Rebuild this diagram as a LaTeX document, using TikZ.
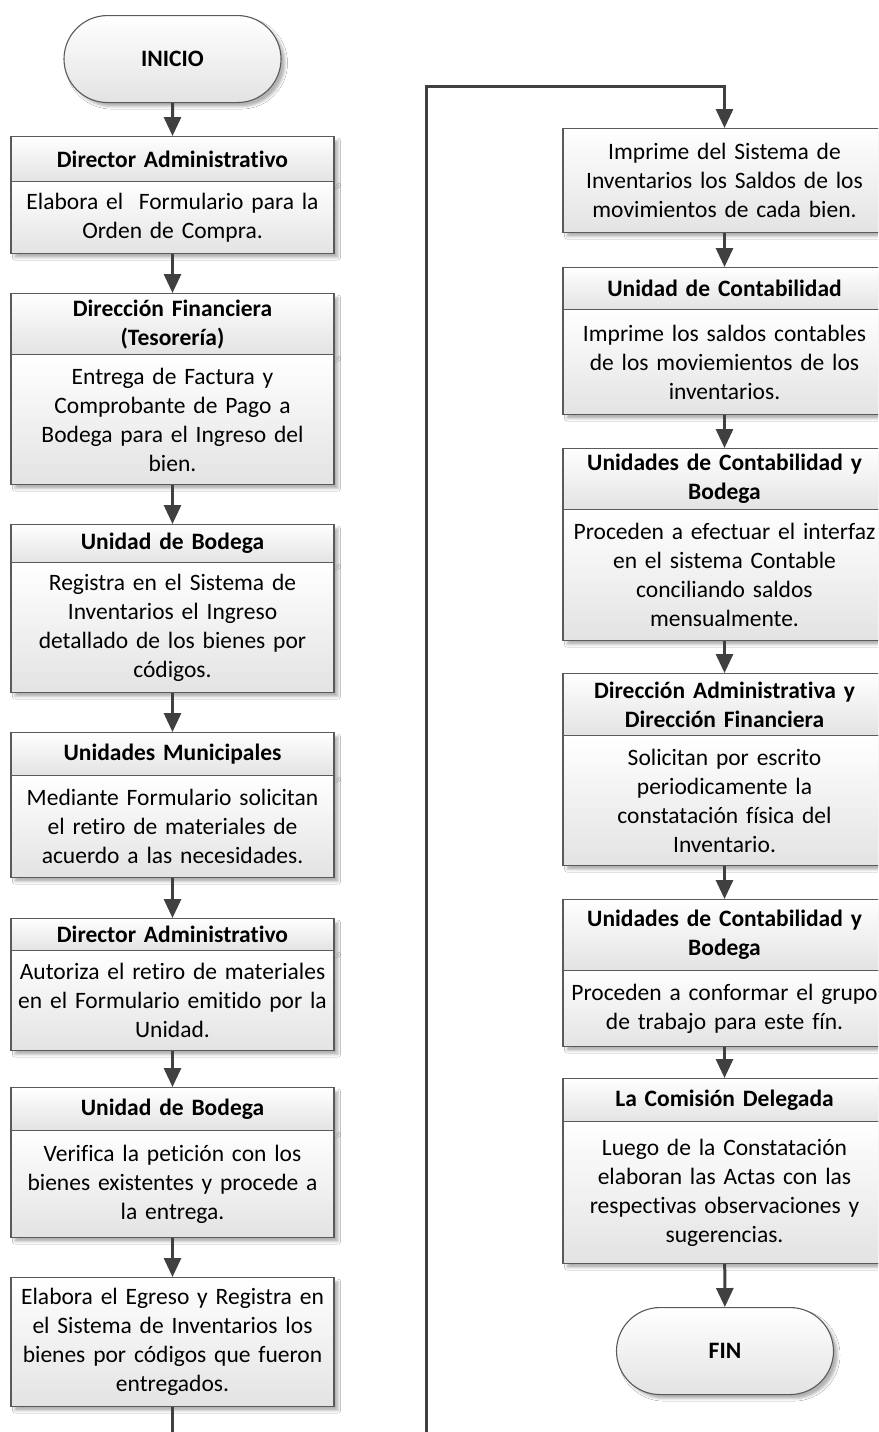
\documentclass[tikz,border=0pt]{standalone}
\usepackage{fontspec}
\setmainfont{Carlito}[RawFeature={-liga;-clig;-calt;-dlig;-rlig}]
\usetikzlibrary{arrows.meta,shapes.misc,shadows.blur}

\definecolor{boxline}{HTML}{5A5A5A}
\definecolor{flowline}{HTML}{404040}
\newcommand{\boxsize}{\fontsize{23.5pt}{29pt}\selectfont}

\tikzset{
  boxbase/.style={draw=boxline, line width=1.1pt, top color=white, bottom color=black!11,
    blur shadow={shadow xshift=4pt, shadow yshift=-4pt, shadow blur radius=2.5pt, shadow opacity=30},
    minimum width=323pt, text width=317pt, align=center, inner sep=0pt, anchor=north},
  hdr/.style={boxbase, font=\boxsize\bfseries},
  bdy/.style={boxbase, font=\boxsize},
  term/.style={rounded rectangle, draw=boxline, line width=1.1pt, top color=white, bottom color=black!11,
    blur shadow={shadow xshift=4pt, shadow yshift=-4pt, shadow blur radius=2.5pt, shadow opacity=30},
    minimum width=217pt, minimum height=87pt, inner sep=0pt, anchor=north, font=\boxsize\bfseries},
  flow/.style={draw=flowline, line width=3pt, -{Triangle[length=19pt,width=17pt]}},
}

\begin{document}
\begin{tikzpicture}[x=1pt,y=-1pt]
\useasboundingbox (0,0) rectangle (878,1432);
\fill[white] (0,0) rectangle (878,1432);
\clip (0,0) rectangle (878,1432);

% ---------- left column ----------
\node[term] (ini) at (172.5,15) {INICIO};

\node[hdr, minimum height=45pt] (h1) at (172.5,136) {Director Administrativo};
\node[bdy, minimum height=72pt] (b1) at (172.5,181) {Elabora el~ Formulario para la\\Orden de Compra.};

\node[hdr, minimum height=61pt] (h2) at (172.5,293) {Dirección Financiera\\(Tesorería)};
\node[bdy, minimum height=130pt] (b2) at (172.5,354) {Entrega de Factura y\\Comprobante de Pago a\\Bodega para el Ingreso del\\bien.};

\node[hdr, minimum height=38pt] (h3) at (172.5,524) {Unidad de Bodega};
\node[bdy, minimum height=130pt] (b3) at (172.5,562) {Registra en el Sistema de\\Inventarios el Ingreso\\detallado de los bienes por\\códigos.};

\node[hdr, minimum height=43pt] (h4) at (172.5,732) {Unidades Municipales};
\node[bdy, minimum height=102pt] (b4) at (172.5,775) {Mediante Formulario solicitan\\el retiro de materiales de\\acuerdo a las necesidades.};

\node[hdr, minimum height=32pt] (h5) at (172.5,918) {Director Administrativo};
\node[bdy, minimum height=100pt] (b5) at (172.5,950) {Autoriza el retiro de materiales\\en el Formulario emitido por la\\Unidad.};

\node[hdr, minimum height=43pt] (h6) at (172.5,1087) {Unidad de Bodega};
\node[bdy, minimum height=107pt] (b6) at (172.5,1130) {Verifica la petición con los\\bienes existentes y procede a\\la entrega.};

\node[bdy, minimum height=129pt] (b7) at (172.5,1277) {Elabora el Egreso y Registra en\\el Sistema de Inventarios los\\bienes por códigos que fueron\\entregados.};

% ---------- right column ----------
\node[bdy, minimum height=104pt] (r1) at (724.5,128) {Imprime del Sistema de\\Inventarios los Saldos de los\\movimientos de cada bien.};

\node[hdr, minimum height=42pt] (rh2) at (724.5,267) {Unidad de Contabilidad};
\node[bdy, minimum height=105pt] (rb2) at (724.5,309) {Imprime los saldos contables\\de los moviemientos de los\\inventarios.};

\node[hdr, minimum height=61pt] (rh3) at (724.5,448) {Unidades de Contabilidad y\\Bodega};
\node[bdy, minimum height=131pt] (rb3) at (724.5,509) {Proceden a efectuar el interfaz\\en el sistema Contable\\conciliando saldos\\mensualmente.};

\node[hdr, minimum height=62pt] (rh4) at (724.5,673) {Dirección Administrativa y\\Dirección Financiera};
\node[bdy, minimum height=130pt] (rb4) at (724.5,735) {Solicitan por escrito\\periodicamente la\\constatación física del\\Inventario.};

\node[hdr, minimum height=71pt] (rh5) at (724.5,899) {Unidades de Contabilidad y\\Bodega};
\node[bdy, minimum height=76pt] (rb5) at (724.5,970) {Proceden a conformar el grupo\\de trabajo para este fín.};

\node[hdr, minimum height=43pt] (rh6) at (724.5,1078) {La Comisión Delegada};
\node[bdy, minimum height=142pt] (rb6) at (724.5,1121) {Luego de la Constatación\\elaboran las Actas con las\\respectivas observaciones y\\sugerencias.};

\node[term] (fin) at (725,1307) {FIN};

% ---------- connectors ----------
\draw[flow] (ini) -- (h1);
\draw[flow] (b1) -- (h2);
\draw[flow] (b2) -- (h3);
\draw[flow] (b3) -- (h4);
\draw[flow] (b4) -- (h5);
\draw[flow] (b5) -- (h6);
\draw[flow] (b6) -- (b7);

\coordinate (loopB) at (426,1470);
\coordinate (loopT) at (426,86);
\draw[flow] (b7.south) |- (loopB) -- (loopT) -| (r1.north);

\draw[flow] (r1) -- (rh2);
\draw[flow] (rb2) -- (rh3);
\draw[flow] (rb3) -- (rh4);
\draw[flow] (rb4) -- (rh5);
\draw[flow] (rb5) -- (rh6);
\draw[flow] (rb6) -- (fin);
\end{tikzpicture}
\end{document}
